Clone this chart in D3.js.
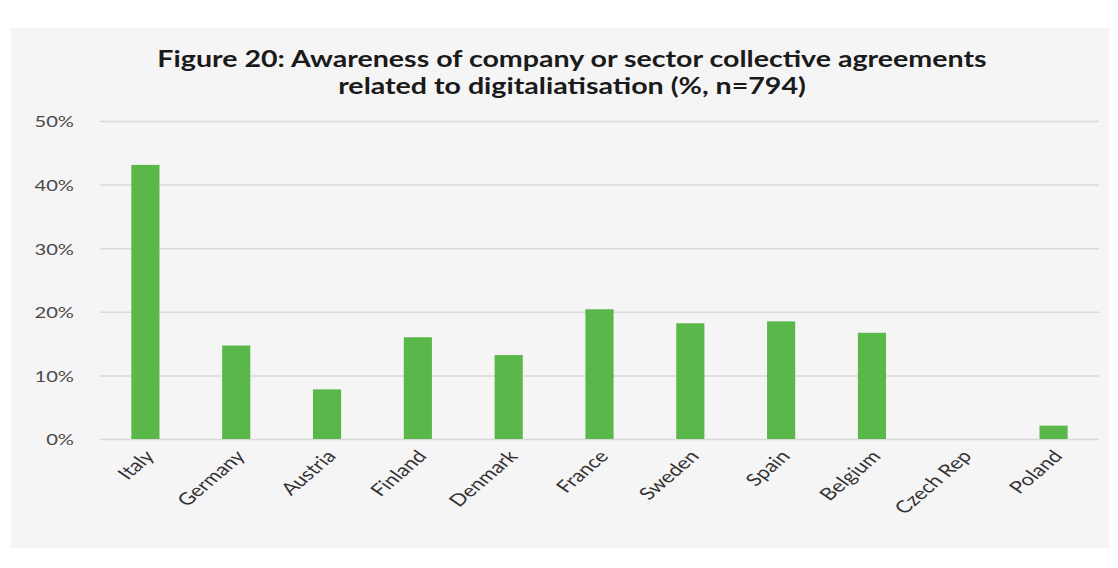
<!DOCTYPE html>
<html>
<head>
<meta charset="utf-8">
<script src="https://cdn.jsdelivr.net/npm/d3@7"></script>
<style>
  body { margin: 0; background: #fff; }
  svg text { font-family: Lato, "Open Sans", sans-serif; }
</style>
</head>
<body>
<div class="chart"></div>
<script>
'use strict';

const countries = ['Italy', 'Germany', 'Austria', 'Finland', 'Denmark', 'France',
  'Sweden', 'Spain', 'Belgium', 'Czech Rep', 'Poland'];
const awareness = [0.431, 0.147, 0.078, 0.160, 0.132, 0.204, 0.182, 0.185, 0.167, 0, 0.021];
const yTicks = [0, 0.1, 0.2, 0.3, 0.4, 0.5];
const titleLines = ['Figure 20: Awareness of company or sector collective agreements',
  'related to digitaliatisation (%, n=794)'];

const W = 1118;
const H = 568;
const margin = {top: 121, right: 18, bottom: 129, left: 100};
const width = 1099 - margin.left;
const height = 439 - margin.top;
// the source picture is stretched sideways, so text is widened to match
const stretch = 1.3;

const data = countries.map((c, i) => ({name: c, value: awareness[i]}));

const svg = d3.select('.chart').append('svg')
  .attr('width', W)
  .attr('height', H);

// panel background
svg.append('rect')
  .attr('x', 11)
  .attr('y', 28)
  .attr('width', 1098)
  .attr('height', 520)
  .attr('fill', '#f6f5f6');

svg.append('g')
  .selectAll('text')
  .data(titleLines)
  .enter()
  .append('text')
  .attr('transform', (d, i) => `translate(572,${67 + i * 27}) scale(${stretch},1)`)
  .attr('text-anchor', 'middle')
  .attr('font-size', 22)
  .attr('font-weight', 'bold')
  .attr('fill', '#1a1a1a')
  .text(d => d);

const g = svg.append('g')
  .attr('transform', `translate(${margin.left},${margin.top})`);

const xScale = d3.scaleBand()
  .domain(countries)
  .range([0, width])
  .paddingInner(0.69)
  .paddingOuter(0.345);

const yScale = d3.scaleLinear()
  .domain([0, 0.5])
  .range([height, 0]);

// gridlines + y labels
const yAxis = g.append('g')
  .attr('class', 'axis axis--y')
  .call(d3.axisLeft(yScale)
    .tickValues(yTicks)
    .tickFormat(d3.format('.0%'))
    .tickSize(-width));
yAxis.select('.domain').remove();
yAxis.selectAll('line')
  .attr('stroke', '#d9d9d9')
  .attr('stroke-width', 1.5);
yAxis.selectAll('text')
  .attr('x', 0)
  .attr('transform', `translate(-26,1) scale(${stretch},1)`)
  .attr('font-size', 15.5)
  .attr('fill', '#4a4a4a');

g.append('g')
  .attr('class', 'bars-g')
  .selectAll('.bar')
  .data(data)
  .enter()
  .append('rect')
  .attr('class', 'bar')
  .attr('x', d => xScale(d.name))
  .attr('y', d => yScale(d.value))
  .attr('width', xScale.bandwidth())
  .attr('height', d => height - yScale(d.value))
  .attr('fill', '#5ab84a');

// x labels
const xAxis = g.append('g')
  .attr('class', 'axis axis--x')
  .attr('transform', `translate(0,${height})`)
  .call(d3.axisBottom(xScale).tickSize(0).tickPadding(0));
xAxis.select('.domain').remove();
xAxis.selectAll('text')
  .attr('font-size', 17)
  .attr('fill', '#333')
  .attr('text-anchor', 'end')
  .attr('dy', 0)
  .attr('transform', `translate(10,18) scale(${stretch},1) rotate(-48)`);
</script>
</body>
</html>
